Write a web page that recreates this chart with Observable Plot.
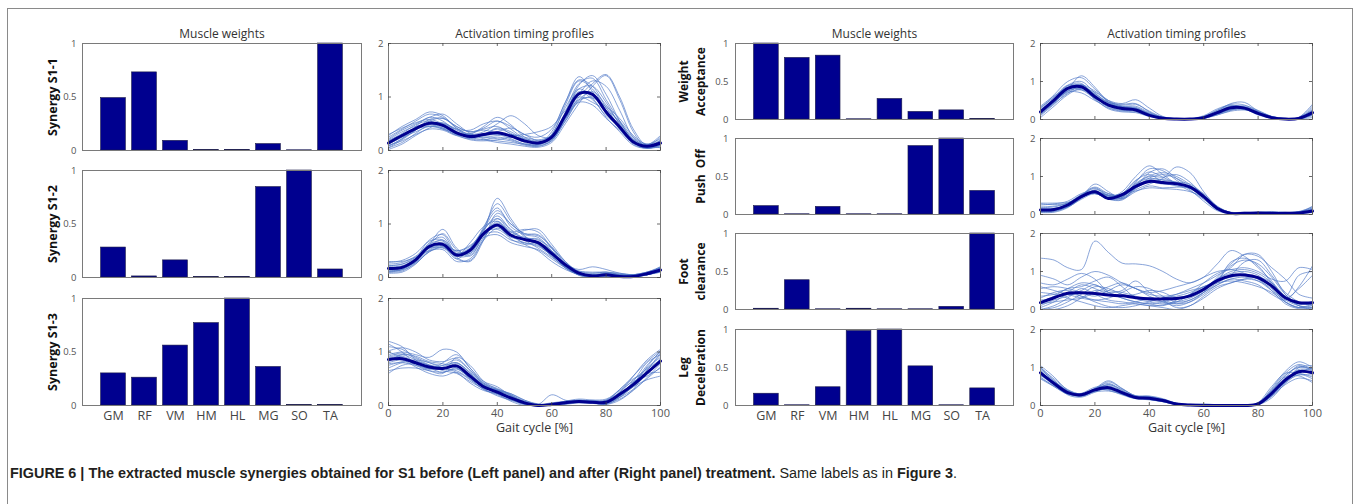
<!DOCTYPE html>
<html><head><meta charset="utf-8">
<script src="https://cdn.jsdelivr.net/npm/d3@7"></script>
<script src="https://cdn.jsdelivr.net/npm/@observablehq/plot@0.6"></script>
<style>
body{margin:0;background:#fff;}
#fig{position:relative;width:1357px;height:504px;overflow:hidden;background:#fff;font-family:"Open Sans",sans-serif;}
#fig svg{position:absolute;overflow:visible;max-width:none;background:transparent;}
#box{position:absolute;left:7px;top:8px;width:1346px;height:600px;border:1.5px solid #8a8a8a;box-sizing:border-box;}
#caption{position:absolute;left:10px;top:465px;white-space:nowrap;font-family:"Liberation Sans Narrow","Arial Narrow","Liberation Sans",Arial,sans-serif;font-size:14px;color:#231f20;transform-origin:0 0;}
#caption b{font-weight:bold;}
</style></head>
<body>
<div id="fig"><div id="box"></div>
<div id="caption"><b>FIGURE 6 | The extracted muscle synergies obtained for S1 before (Left panel) and after (Right panel) treatment.</b> Same labels as in <b>Figure 3</b>.</div>
</div>
<script>
// ---------- DATA ----------
const muscles = ["GM","RF","VM","HM","HL","MG","SO","TA"];
const musclePos = [1,2,3,4,5,6,7,8];
const gaitPct = [0,5,10,15,20,25,30,35,40,45,50,55,60,65,70,75,80,85,90,95,100];
const gaitTicks = [0,20,40,60,80,100];
const weightTicks = [0,0.5,1];
const activationTicks = [0,1,2];

const beforeLabels = ["Synergy S1-1","Synergy S1-2","Synergy S1-3"];
const afterLabels = ["Weight\nAcceptance","Push  Off","Foot\nclearance","Leg\nDeceleration"];

// muscle weights (before)
const wS1_1 = [0.49,0.73,0.09,0.003,0.005,0.06,0.002,1.0];
const wS1_2 = [0.28,0.01,0.16,0.003,0.005,0.845,1.0,0.075];
const wS1_3 = [0.30,0.26,0.56,0.77,1.0,0.36,0.003,0.003];
// muscle weights (after)
const wWA = [1.0,0.81,0.84,0.003,0.27,0.10,0.12,0.005];
const wPO = [0.11,0.003,0.10,0.003,0.003,0.90,1.0,0.31];
const wFC = [0.01,0.385,0.003,0.01,0.003,0.003,0.035,1.0];
const wLD = [0.155,0.003,0.24,0.98,1.0,0.515,0.003,0.225];

// activation timing profiles: mean (thick) and single cycles (thin), sampled at gaitPct
const meanS1_1 = [0.14,0.28,0.41,0.51,0.47,0.33,0.26,0.30,0.33,0.27,0.18,0.14,0.25,0.66,1.06,1.05,0.72,0.44,0.16,0.08,0.14];
const cycS1_1 = [
 [0.05,0.20,0.38,0.55,0.60,0.42,0.28,0.25,0.22,0.18,0.10,0.08,0.20,0.72,1.25,1.35,0.95,0.55,0.20,0.06,0.12],
 [0.25,0.40,0.55,0.68,0.62,0.45,0.35,0.40,0.45,0.30,0.15,0.10,0.30,0.80,1.15,0.98,0.62,0.35,0.10,0.05,0.20],
 [0.10,0.18,0.30,0.40,0.38,0.28,0.30,0.45,0.62,0.48,0.25,0.15,0.20,0.55,0.95,1.10,0.85,0.50,0.18,0.10,0.15],
 [0.18,0.32,0.48,0.55,0.45,0.30,0.20,0.18,0.20,0.25,0.22,0.18,0.28,0.60,0.90,0.85,0.60,0.38,0.15,0.05,0.10],
 [0.02,0.12,0.28,0.42,0.50,0.40,0.25,0.20,0.15,0.12,0.08,0.06,0.15,0.50,0.88,1.20,1.40,0.95,0.35,0.05,0.08],
 [0.30,0.42,0.52,0.58,0.50,0.40,0.38,0.50,0.55,0.45,0.30,0.25,0.40,0.90,1.38,1.10,0.70,0.40,0.15,0.10,0.28],
 [0.12,0.25,0.35,0.45,0.42,0.32,0.25,0.28,0.35,0.42,0.30,0.18,0.22,0.60,1.05,1.30,1.20,0.75,0.25,0.08,0.18],
 [0.08,0.22,0.45,0.62,0.55,0.35,0.22,0.20,0.25,0.20,0.12,0.10,0.25,0.70,1.10,0.95,0.65,0.45,0.20,0.10,0.05],
 [0.20,0.35,0.45,0.48,0.40,0.30,0.32,0.38,0.32,0.28,0.30,0.35,0.45,0.75,1.00,0.90,0.75,0.55,0.25,0.12,0.22],
 [0.15,0.30,0.42,0.50,0.45,0.35,0.28,0.30,0.42,0.35,0.20,0.12,0.18,0.65,1.22,1.40,1.05,0.55,0.18,0.05,0.15],
 [0.22,0.38,0.50,0.62,0.68,0.50,0.32,0.22,0.18,0.15,0.12,0.12,0.30,0.85,1.30,1.15,0.75,0.40,0.12,0.04,0.10],
 [0.05,0.15,0.32,0.48,0.52,0.38,0.30,0.35,0.50,0.65,0.50,0.28,0.25,0.55,0.92,1.00,0.80,0.52,0.22,0.08,0.06],
 [0.28,0.45,0.58,0.72,0.65,0.42,0.30,0.28,0.30,0.22,0.12,0.08,0.18,0.58,1.00,1.25,1.42,1.00,0.40,0.10,0.25],
 [0.12,0.25,0.40,0.50,0.42,0.28,0.22,0.30,0.40,0.32,0.18,0.12,0.35,0.90,1.32,1.20,0.80,0.45,0.18,0.08,0.12],
 [0.18,0.30,0.40,0.45,0.40,0.32,0.28,0.25,0.28,0.30,0.25,0.20,0.28,0.62,0.95,0.98,0.82,0.60,0.28,0.12,0.18],
 [0.08,0.22,0.38,0.58,0.60,0.45,0.35,0.42,0.55,0.40,0.22,0.15,0.22,0.68,1.15,1.20,0.90,0.48,0.15,0.04,0.10]
];
const meanS1_2 = [0.17,0.19,0.33,0.58,0.62,0.42,0.51,0.82,0.98,0.79,0.71,0.65,0.45,0.24,0.08,0.03,0.05,0.02,0.02,0.07,0.14];
const cycS1_2 = [
 [0.10,0.15,0.35,0.70,0.80,0.45,0.45,0.95,1.30,0.95,0.80,0.75,0.50,0.20,0.05,0.02,0.05,0.02,0.00,0.05,0.12],
 [0.25,0.28,0.40,0.60,0.58,0.35,0.55,0.90,1.10,0.85,0.75,0.70,0.55,0.30,0.10,0.05,0.08,0.05,0.05,0.10,0.20],
 [0.12,0.15,0.30,0.55,0.65,0.50,0.60,0.80,0.85,0.70,0.65,0.60,0.40,0.20,0.12,0.10,0.10,0.05,0.02,0.05,0.10],
 [0.20,0.22,0.35,0.62,0.90,0.55,0.40,0.85,1.48,1.10,0.78,0.62,0.40,0.18,0.05,0.00,0.02,0.00,0.02,0.08,0.15],
 [0.30,0.30,0.38,0.50,0.52,0.30,0.35,0.70,0.92,0.80,0.88,0.90,0.62,0.30,0.08,0.02,0.05,0.05,0.05,0.10,0.18],
 [0.08,0.10,0.25,0.50,0.60,0.45,0.55,0.75,0.80,0.65,0.58,0.52,0.35,0.18,0.06,0.04,0.03,0.02,0.04,0.06,0.10],
 [0.15,0.18,0.32,0.65,0.75,0.38,0.30,0.70,1.20,1.00,0.82,0.80,0.55,0.28,0.12,0.08,0.10,0.08,0.05,0.08,0.16],
 [0.22,0.25,0.38,0.55,0.55,0.40,0.65,0.95,1.05,0.78,0.65,0.58,0.42,0.25,0.15,0.20,0.15,0.08,0.05,0.05,0.12],
 [0.12,0.16,0.30,0.58,0.70,0.48,0.48,0.78,0.95,0.72,0.62,0.65,0.50,0.22,0.04,0.00,0.00,0.02,0.05,0.10,0.18],
 [0.18,0.20,0.28,0.48,0.58,0.42,0.55,0.88,1.15,0.88,0.70,0.55,0.38,0.20,0.08,0.05,0.06,0.04,0.03,0.06,0.15],
 [0.28,0.32,0.45,0.68,0.70,0.42,0.48,0.90,1.25,1.00,0.82,0.78,0.58,0.25,0.08,0.05,0.08,0.06,0.04,0.08,0.20],
 [0.10,0.12,0.28,0.52,0.62,0.50,0.58,0.85,0.90,0.75,0.72,0.72,0.48,0.18,0.05,0.02,0.03,0.02,0.03,0.06,0.12],
 [0.18,0.20,0.35,0.62,0.68,0.35,0.32,0.72,1.05,0.82,0.62,0.50,0.30,0.15,0.06,0.04,0.06,0.04,0.02,0.05,0.14],
 [0.15,0.18,0.32,0.60,0.82,0.52,0.45,0.80,1.02,0.85,0.90,0.85,0.55,0.22,0.06,0.02,0.04,0.03,0.02,0.06,0.16],
 [0.22,0.25,0.36,0.55,0.62,0.40,0.42,0.75,1.10,0.90,0.72,0.62,0.45,0.25,0.10,0.08,0.10,0.06,0.05,0.08,0.18],
 [0.12,0.14,0.26,0.48,0.56,0.44,0.52,0.92,1.38,1.05,0.76,0.66,0.46,0.20,0.06,0.03,0.05,0.03,0.02,0.05,0.13]
];
const meanS1_3 = [0.86,0.875,0.80,0.72,0.69,0.74,0.55,0.35,0.25,0.14,0.05,0.0,0.02,0.05,0.075,0.06,0.06,0.21,0.39,0.61,0.83];
const cycS1_3 = [
 [1.10,1.05,0.90,0.80,0.75,0.80,0.60,0.38,0.25,0.12,0.02,0.00,0.02,0.05,0.10,0.08,0.05,0.25,0.55,0.85,1.05],
 [0.60,0.75,0.78,0.70,0.62,0.70,0.50,0.30,0.22,0.15,0.08,0.02,0.05,0.08,0.10,0.08,0.10,0.30,0.50,0.60,0.62],
 [0.95,1.00,0.95,0.90,1.05,1.00,0.70,0.45,0.35,0.18,0.05,0.00,0.00,0.02,0.05,0.05,0.02,0.15,0.40,0.75,1.00],
 [0.80,0.85,0.72,0.60,0.55,0.62,0.48,0.30,0.20,0.10,0.02,0.00,0.03,0.08,0.12,0.10,0.08,0.20,0.35,0.48,0.55],
 [1.20,1.10,0.85,0.70,0.75,0.85,0.65,0.40,0.30,0.20,0.08,0.00,0.00,0.03,0.06,0.04,0.02,0.10,0.30,0.65,0.95],
 [0.70,0.80,0.82,0.75,0.65,0.60,0.45,0.32,0.28,0.18,0.05,0.02,0.20,0.10,0.05,0.05,0.08,0.22,0.42,0.70,0.90],
 [0.90,0.95,0.85,0.75,0.70,0.72,0.58,0.38,0.22,0.08,0.00,0.00,0.02,0.06,0.08,0.10,0.12,0.28,0.45,0.55,0.70],
 [1.00,0.90,0.75,0.65,0.60,0.90,0.75,0.45,0.30,0.15,0.03,0.00,0.01,0.04,0.06,0.05,0.04,0.18,0.38,0.72,1.02],
 [0.75,0.82,0.85,0.80,0.70,0.65,0.50,0.35,0.28,0.22,0.10,0.03,0.02,0.05,0.08,0.07,0.06,0.20,0.45,0.80,0.95],
 [0.88,0.92,0.80,0.68,0.72,0.80,0.60,0.32,0.18,0.10,0.05,0.01,0.03,0.06,0.09,0.08,0.05,0.15,0.30,0.50,0.72],
 [0.82,0.95,0.92,0.82,0.78,0.70,0.52,0.35,0.28,0.18,0.06,0.00,0.02,0.06,0.09,0.07,0.08,0.30,0.55,0.82,1.02],
 [1.15,1.00,0.78,0.68,0.80,0.95,0.70,0.42,0.28,0.14,0.03,0.00,0.01,0.04,0.07,0.06,0.04,0.12,0.28,0.52,0.78],
 [0.65,0.70,0.70,0.65,0.62,0.68,0.52,0.35,0.30,0.22,0.10,0.02,0.03,0.06,0.09,0.08,0.10,0.25,0.48,0.68,0.85],
 [0.92,0.98,0.88,0.76,0.70,0.62,0.42,0.28,0.22,0.12,0.04,0.00,0.02,0.05,0.08,0.07,0.06,0.22,0.42,0.62,0.80],
 [0.78,0.80,0.75,0.70,0.68,0.78,0.62,0.40,0.26,0.14,0.04,0.00,0.01,0.05,0.08,0.06,0.05,0.18,0.35,0.58,0.88],
 [1.02,1.08,1.00,0.85,0.82,0.88,0.66,0.42,0.32,0.20,0.06,0.01,0.02,0.04,0.07,0.06,0.04,0.16,0.36,0.66,0.98]
];
const meanWA = [0.20,0.51,0.82,0.86,0.60,0.38,0.29,0.25,0.11,0.03,0.01,0.01,0.05,0.18,0.31,0.30,0.16,0.05,0.01,0.03,0.18];
const cycWA = [
 [0.30,0.65,1.00,1.10,0.80,0.50,0.35,0.30,0.15,0.05,0.02,0.02,0.08,0.25,0.40,0.38,0.20,0.05,0.00,0.05,0.35],
 [0.10,0.40,0.70,0.78,0.62,0.45,0.40,0.42,0.20,0.05,0.00,0.00,0.03,0.15,0.25,0.28,0.18,0.06,0.02,0.02,0.10],
 [0.25,0.55,0.85,0.92,0.65,0.35,0.25,0.22,0.10,0.02,0.01,0.02,0.06,0.20,0.35,0.32,0.15,0.04,0.00,0.04,0.25],
 [0.05,0.35,0.65,0.82,0.72,0.50,0.42,0.52,0.30,0.08,0.02,0.01,0.04,0.12,0.22,0.25,0.20,0.08,0.03,0.02,0.05],
 [0.32,0.58,0.88,0.95,0.55,0.28,0.20,0.18,0.08,0.02,0.00,0.01,0.08,0.22,0.42,0.45,0.22,0.06,0.01,0.06,0.40],
 [0.15,0.45,0.72,0.70,0.50,0.35,0.30,0.28,0.12,0.04,0.02,0.02,0.05,0.15,0.26,0.26,0.14,0.04,0.01,0.03,0.15],
 [0.22,0.50,0.80,1.15,0.85,0.45,0.30,0.25,0.10,0.03,0.01,0.00,0.04,0.18,0.30,0.30,0.18,0.06,0.02,0.04,0.22],
 [0.18,0.48,0.75,0.80,0.58,0.40,0.35,0.35,0.18,0.06,0.02,0.01,0.06,0.20,0.32,0.28,0.12,0.03,0.00,0.02,0.12],
 [0.28,0.60,0.90,0.85,0.52,0.30,0.22,0.20,0.10,0.03,0.01,0.02,0.10,0.28,0.38,0.30,0.14,0.04,0.01,0.03,0.20],
 [0.12,0.42,0.68,0.90,0.75,0.48,0.32,0.28,0.14,0.05,0.02,0.01,0.03,0.12,0.24,0.32,0.22,0.08,0.02,0.03,0.18],
 [0.20,0.55,0.90,1.00,0.70,0.42,0.32,0.28,0.12,0.03,0.01,0.01,0.05,0.20,0.34,0.34,0.18,0.05,0.01,0.03,0.20],
 [0.35,0.62,0.82,0.78,0.55,0.38,0.30,0.30,0.15,0.05,0.02,0.02,0.06,0.16,0.28,0.30,0.18,0.06,0.02,0.04,0.30],
 [0.14,0.44,0.76,0.88,0.68,0.46,0.38,0.40,0.22,0.06,0.02,0.01,0.04,0.14,0.28,0.36,0.24,0.08,0.02,0.03,0.12],
 [0.24,0.52,0.80,0.92,0.62,0.32,0.24,0.24,0.10,0.03,0.01,0.01,0.07,0.24,0.36,0.32,0.15,0.04,0.01,0.04,0.26],
 [0.18,0.46,0.74,0.84,0.66,0.44,0.34,0.32,0.16,0.05,0.02,0.01,0.05,0.17,0.30,0.28,0.16,0.05,0.01,0.03,0.16]
];
const meanPO = [0.12,0.13,0.25,0.47,0.60,0.42,0.52,0.74,0.87,0.84,0.81,0.72,0.47,0.16,0.03,0.03,0.04,0.03,0.03,0.04,0.09];
const cycPO = [
 [0.08,0.10,0.22,0.50,0.70,0.50,0.45,0.85,1.20,1.15,0.90,0.65,0.35,0.10,0.02,0.02,0.03,0.02,0.02,0.04,0.10],
 [0.25,0.28,0.35,0.55,0.62,0.48,0.55,0.90,1.05,0.85,0.75,0.68,0.45,0.15,0.04,0.05,0.06,0.05,0.05,0.08,0.20],
 [0.10,0.12,0.20,0.40,0.55,0.40,0.38,0.65,0.80,0.95,1.25,1.10,0.60,0.18,0.02,0.01,0.02,0.02,0.03,0.05,0.08],
 [0.05,0.06,0.18,0.45,0.80,0.60,0.42,0.60,0.75,0.70,0.72,0.70,0.50,0.20,0.05,0.03,0.04,0.03,0.02,0.03,0.05],
 [0.15,0.15,0.28,0.50,0.55,0.45,0.60,1.00,1.28,1.05,0.80,0.62,0.40,0.14,0.03,0.02,0.05,0.04,0.04,0.06,0.12],
 [0.30,0.30,0.32,0.45,0.58,0.50,0.48,0.70,0.85,0.80,0.78,0.75,0.55,0.22,0.05,0.04,0.06,0.08,0.06,0.05,0.14],
 [0.12,0.14,0.25,0.48,0.62,0.42,0.40,0.72,1.10,1.20,0.95,0.70,0.42,0.12,0.02,0.02,0.03,0.03,0.02,0.03,0.06],
 [0.18,0.20,0.30,0.52,0.60,0.52,0.52,0.62,0.70,0.68,0.66,0.60,0.45,0.18,0.06,0.06,0.05,0.04,0.05,0.07,0.15],
 [0.08,0.09,0.20,0.42,0.65,0.55,0.48,0.80,0.95,0.90,0.85,0.80,0.52,0.16,0.03,0.02,0.03,0.02,0.03,0.05,0.22],
 [0.14,0.16,0.26,0.46,0.58,0.40,0.45,0.78,1.00,0.98,1.05,0.85,0.48,0.14,0.04,0.03,0.04,0.03,0.03,0.04,0.10],
 [0.12,0.14,0.26,0.52,0.72,0.55,0.50,0.82,1.02,1.10,1.00,0.78,0.45,0.14,0.03,0.02,0.03,0.03,0.03,0.04,0.12],
 [0.20,0.22,0.30,0.48,0.60,0.45,0.42,0.68,0.92,0.92,0.85,0.72,0.48,0.18,0.05,0.04,0.05,0.04,0.04,0.06,0.16],
 [0.06,0.08,0.20,0.44,0.62,0.50,0.55,0.88,1.12,0.98,0.82,0.70,0.44,0.14,0.03,0.02,0.04,0.03,0.03,0.05,0.08],
 [0.28,0.26,0.30,0.46,0.55,0.42,0.48,0.76,0.90,0.86,0.80,0.74,0.52,0.20,0.05,0.04,0.05,0.05,0.05,0.07,0.18],
 [0.10,0.12,0.24,0.50,0.68,0.48,0.44,0.70,0.96,1.05,0.95,0.75,0.46,0.15,0.04,0.03,0.04,0.03,0.03,0.05,0.12]
];
const meanFC = [0.18,0.31,0.43,0.44,0.42,0.38,0.36,0.31,0.28,0.28,0.29,0.36,0.53,0.76,0.89,0.91,0.84,0.62,0.31,0.18,0.18];
const cycFC = [
 [1.35,1.30,1.10,1.05,1.80,1.50,1.22,1.20,1.15,1.00,0.80,0.70,0.85,1.00,1.05,1.10,1.00,0.80,0.75,1.10,1.05],
 [0.90,0.80,0.65,0.85,1.00,0.90,0.70,0.55,0.45,0.50,0.60,0.70,0.85,1.20,1.55,1.40,1.10,0.75,0.30,0.15,0.20],
 [0.00,0.10,0.30,0.55,0.40,0.25,0.20,0.15,0.10,0.12,0.20,0.40,0.70,0.95,1.05,0.95,0.80,0.50,0.15,0.02,0.00],
 [0.20,0.35,0.55,0.60,0.75,0.85,0.60,0.30,0.20,0.15,0.20,0.30,0.50,0.85,1.20,1.45,1.40,1.10,0.80,0.40,0.30],
 [0.05,0.20,0.40,0.35,0.20,0.08,0.05,0.10,0.20,0.30,0.35,0.45,0.60,0.70,0.75,0.70,0.60,0.45,0.20,0.05,0.02],
 [0.55,0.60,0.55,0.45,0.35,0.50,0.65,0.55,0.35,0.20,0.10,0.20,0.45,0.80,0.95,1.00,0.90,0.60,0.20,0.05,0.10],
 [0.00,0.05,0.20,0.40,0.60,0.55,0.40,0.30,0.25,0.30,0.40,0.55,0.70,0.90,1.10,1.45,1.45,1.00,0.40,0.10,0.00],
 [0.30,0.45,0.50,0.35,0.25,0.20,0.15,0.20,0.30,0.25,0.15,0.20,0.40,0.65,0.80,0.75,0.65,0.40,0.25,0.60,1.15],
 [0.10,0.25,0.35,0.50,0.65,0.45,0.50,0.75,0.45,0.25,0.05,0.10,0.35,0.60,0.70,0.80,0.85,0.70,0.35,0.10,0.05],
 [0.45,0.40,0.30,0.20,0.10,0.05,0.10,0.15,0.10,0.05,0.00,0.10,0.30,0.55,0.70,0.80,0.75,0.55,0.20,0.05,0.15],
 [0.70,0.65,0.80,0.95,0.80,0.45,0.30,0.20,0.15,0.10,0.25,0.40,0.60,0.75,1.25,1.35,1.15,0.70,0.35,0.90,1.00],
 [0.25,0.30,0.45,0.65,0.55,0.40,0.35,0.40,0.50,0.45,0.30,0.35,0.55,0.80,1.00,1.05,0.95,0.70,0.30,0.15,0.20],
 [0.60,0.50,0.40,0.30,0.25,0.30,0.45,0.60,0.55,0.35,0.20,0.25,0.45,0.70,0.90,1.25,1.30,0.90,0.45,0.20,0.10],
 [0.00,0.00,0.10,0.30,0.50,0.45,0.30,0.20,0.15,0.20,0.30,0.35,0.50,0.75,0.85,0.90,0.80,0.60,0.30,0.55,0.90],
 [0.35,0.40,0.55,0.70,0.65,0.50,0.45,0.35,0.25,0.20,0.15,0.25,0.45,0.65,0.80,0.85,0.75,0.50,0.25,0.10,0.05],
 [0.15,0.20,0.25,0.30,0.45,0.60,0.70,0.55,0.40,0.35,0.40,0.50,0.60,0.80,1.15,1.30,1.20,0.85,0.40,0.15,0.15]
];
const meanLD = [0.86,0.58,0.34,0.28,0.41,0.47,0.34,0.21,0.19,0.13,0.04,0.01,0.0,0.0,0.0,0.0,0.04,0.32,0.67,0.89,0.86];
const cycLD = [
 [1.05,0.75,0.40,0.28,0.45,0.65,0.45,0.25,0.22,0.15,0.04,0.00,0.00,0.00,0.00,0.00,0.05,0.45,0.90,1.15,1.00],
 [0.75,0.50,0.30,0.30,0.40,0.42,0.30,0.20,0.18,0.12,0.05,0.02,0.00,0.00,0.00,0.00,0.02,0.25,0.55,0.72,0.65],
 [0.95,0.65,0.38,0.25,0.38,0.55,0.38,0.25,0.25,0.18,0.06,0.02,0.03,0.02,0.00,0.00,0.05,0.38,0.80,1.00,0.95],
 [0.70,0.50,0.32,0.32,0.48,0.50,0.30,0.18,0.15,0.10,0.03,0.00,0.00,0.01,0.00,0.00,0.08,0.50,0.85,0.85,0.75],
 [1.00,0.60,0.28,0.22,0.35,0.45,0.32,0.22,0.22,0.14,0.05,0.03,0.04,0.02,0.00,0.00,0.02,0.20,0.60,1.00,1.05],
 [0.82,0.58,0.35,0.30,0.42,0.40,0.28,0.18,0.20,0.12,0.04,0.01,0.00,0.00,0.00,0.00,0.03,0.30,0.62,0.80,0.80],
 [0.90,0.55,0.30,0.25,0.45,0.58,0.40,0.22,0.16,0.10,0.02,0.00,0.00,0.00,0.00,0.00,0.04,0.35,0.72,1.05,0.90],
 [0.78,0.62,0.40,0.30,0.36,0.38,0.30,0.20,0.22,0.16,0.06,0.02,0.02,0.01,0.00,0.00,0.06,0.40,0.75,0.78,0.60],
 [0.92,0.60,0.36,0.28,0.40,0.48,0.36,0.24,0.20,0.12,0.04,0.01,0.00,0.00,0.00,0.00,0.02,0.28,0.65,0.95,0.92],
 [0.98,0.70,0.42,0.30,0.42,0.55,0.42,0.26,0.24,0.16,0.05,0.01,0.00,0.00,0.00,0.00,0.06,0.42,0.85,1.08,0.95],
 [0.72,0.52,0.34,0.26,0.38,0.46,0.34,0.22,0.18,0.12,0.04,0.01,0.00,0.00,0.00,0.00,0.03,0.24,0.58,0.82,0.70],
 [0.88,0.62,0.36,0.24,0.42,0.62,0.44,0.24,0.20,0.14,0.04,0.00,0.00,0.00,0.00,0.00,0.04,0.36,0.78,1.02,0.96],
 [0.80,0.54,0.32,0.28,0.44,0.52,0.36,0.20,0.16,0.10,0.03,0.01,0.01,0.00,0.00,0.00,0.05,0.30,0.68,0.92,0.84],
 [1.02,0.66,0.38,0.30,0.40,0.44,0.32,0.22,0.21,0.14,0.05,0.02,0.01,0.00,0.00,0.00,0.02,0.26,0.62,0.88,0.98]
];

// ---------- STYLE ----------
const BAR = "#00008f", BAR_EDGE = "#1a1a48", NAVY = "#00008f", THIN = "#5078c6";
const FRAME = "#7a7a7a", TICK = "#555555", FONT = "Open Sans, sans-serif";
const fig = document.getElementById("fig");
const ML = 70, MR = 12, MT = 24, MB = 40;

function mount(svg, fx, fy) {
  svg.style.left = (fx - ML) + "px";
  svg.style.top = (fy - MT) + "px";
  fig.appendChild(svg);
}

function rowLabel(text, dx, size) {
  return Plot.text([text], {frameAnchor: "left", text: d => d, rotate: -90, dx, lineAnchor: "bottom",
    textAnchor: "middle", fontWeight: "bold", fontSize: size, fill: "#111", lineHeight: 1.4});
}
function title(text) {
  return Plot.text([text], {frameAnchor: "top", text: d => d, dy: -6, lineAnchor: "bottom", fontSize: 12, fill: "#333"});
}

function barPanel(values, fx, fy, fw, fh, o) {
  const data = values.map((v, i) => ({pos: musclePos[i], v}));
  const marks = [
    Plot.rect(data, {x1: d => d.pos - 0.4, x2: d => d.pos + 0.4, y1: d => 0, y2: d => d.v,
      fill: BAR, stroke: BAR_EDGE, strokeWidth: 0.6}),
    Plot.frame({stroke: FRAME, strokeWidth: 1}),
    Plot.axisY(weightTicks, {tickSize: 0, tickPadding: o.padY, fontSize: 9.5, color: TICK, label: null,
      tickFormat: d => String(d)}),
    rowLabel(o.label, o.labelDx, o.labelSize)
  ];
  if (o.showX) marks.push(Plot.axisX(musclePos, {tickSize: 0, tickPadding: 6, fontSize: 12.5, color: "#444",
    label: null, tickFormat: i => muscles[i - 1]}));
  if (o.title) marks.push(title(o.title));
  const svg = Plot.plot({
    width: fw + ML + MR, height: fh + MT + MB,
    marginLeft: ML, marginRight: MR, marginTop: MT, marginBottom: MB,
    x: {domain: [0, 9], axis: null}, y: {domain: [0, 1], axis: null},
    style: {fontFamily: FONT, background: "transparent", overflow: "visible"},
    marks
  });
  mount(svg, fx, fy);
}

function timingPanel(mean, cycles, fx, fy, fw, fh, o) {
  const thin = cycles.flatMap((c, k) => c.map((v, i) => ({x: gaitPct[i], y: v, k})));
  const avg = mean.map((v, i) => ({x: gaitPct[i], y: v}));
  const marks = [
    Plot.line(thin, {x: "x", y: "y", z: "k", stroke: THIN, strokeWidth: 0.8, strokeOpacity: 0.85, curve: "catmull-rom", clip: true}),
    Plot.line(avg, {x: "x", y: "y", stroke: NAVY, strokeWidth: 3, curve: "catmull-rom"}),
    Plot.frame({stroke: FRAME, strokeWidth: 1}),
    Plot.tickX(gaitTicks, {x: d => d, insetBottom: fh - 3, stroke: "#444", strokeWidth: 0.8}),
    Plot.tickX(gaitTicks, {x: d => d, insetTop: fh - 3, stroke: "#444", strokeWidth: 0.8}),
    Plot.tickY(activationTicks, {y: d => d, insetRight: fw - 3, stroke: "#444", strokeWidth: 0.8}),
    Plot.tickY(activationTicks, {y: d => d, insetLeft: fw - 3, stroke: "#444", strokeWidth: 0.8}),
    Plot.axisY(activationTicks, {tickSize: 0, tickPadding: 5, fontSize: 9.5, color: TICK, label: null,
      tickFormat: d => String(d)})
  ];
  if (o.showX) {
    marks.push(Plot.axisX(gaitTicks, {tickSize: 0, tickPadding: 4, fontSize: 11, color: TICK, label: null,
      tickFormat: d => String(d)}));
    marks.push(Plot.text(["Gait cycle [%]"], {frameAnchor: "bottom", text: d => d, dy: 18, dx: 10, lineAnchor: "top", fontSize: 12.5, fill: "#333"}));
  }
  if (o.title) marks.push(title(o.title));
  const svg = Plot.plot({
    width: fw + ML + MR, height: fh + MT + MB,
    marginLeft: ML, marginRight: MR, marginTop: MT, marginBottom: MB,
    x: {domain: [0, 100], axis: null}, y: {domain: [0, 2], axis: null},
    style: {fontFamily: FONT, background: "transparent", overflow: "visible"},
    marks
  });
  mount(svg, fx, fy);
}

// ---------- LAYOUT ----------
const beforeW = [wS1_1, wS1_2, wS1_3];
const beforeM = [meanS1_1, meanS1_2, meanS1_3];
const beforeC = [cycS1_1, cycS1_2, cycS1_3];
const beforeTop = [43, 170, 298];
beforeW.forEach((w, r) => {
  barPanel(w, 82, beforeTop[r], 279, 107, {showX: r === 2, title: r === 0 ? "Muscle weights" : null,
    label: beforeLabels[r], labelDx: -26, labelSize: 12.5, padY: 6});
  timingPanel(beforeM[r], beforeC[r], 387.5, beforeTop[r], 272, 107, {showX: r === 2,
    title: r === 0 ? "Activation timing profiles" : null});
});

const afterW = [wWA, wPO, wFC, wLD];
const afterM = [meanWA, meanPO, meanFC, meanLD];
const afterC = [cycWA, cycPO, cycFC, cycLD];
const afterTop = [43, 138, 233, 329];
afterW.forEach((w, r) => {
  barPanel(w, 735, afterTop[r], 278, 76, {showX: r === 3, title: r === 0 ? "Muscle weights" : null,
    label: afterLabels[r], labelDx: -31, labelSize: 12, padY: 7});
  timingPanel(afterM[r], afterC[r], 1040, afterTop[r], 272, 76, {showX: r === 3,
    title: r === 0 ? "Activation timing profiles" : null});
});

// caption width fit
const cap = document.getElementById("caption");
const cw = cap.getBoundingClientRect().width;
cap.style.transform = `scaleX(${947 / cw})`;
</script>
</body></html>
